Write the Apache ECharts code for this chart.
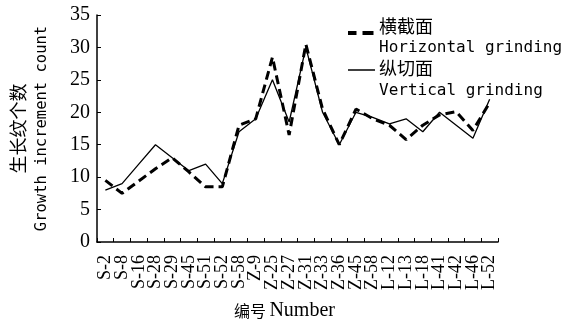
<!DOCTYPE html>
<html>
<head>
<meta charset="utf-8">
<script src="https://cdn.jsdelivr.net/npm/echarts@6/dist/echarts.min.js"></script>
<style>
  html, body { margin: 0; padding: 0; background: #fff; }
  #chart { width: 564px; height: 322px; }
</style>
</head>
<body>
<div id="chart"></div>
<script>
// Sample numbers along the x axis
const categories = ['S-2', 'S-8', 'S-16', 'S-28', 'S-29', 'S-45', 'S-51', 'S-52', 'S-58',
  'Z-9', 'Z-25', 'Z-27', 'Z-31', 'Z-33', 'Z-36', 'Z-45', 'Z-58',
  'L-12', 'L-13', 'L-18', 'L-41', 'L-42', 'L-46', 'L-52'];

// Growth increment counts, horizontal (cross) sections
const horizontalCounts = [9.5, 7.5, 9.4, 11.3, 13, 10.8, 8.5, 8.5, 18, 19, 28.5, 16.5,
  30.5, 20.5, 15, 20.5, 19, 18, 15.8, 18, 19.6, 20.1, 17.2, 21.5];

// Growth increment counts, vertical (longitudinal) sections
const verticalCounts = [8, 9, 12, 15, 13, 11, 12, 9, 17, 19, 25, 18.5,
  30, 20, 15, 20, 19.2, 18.2, 19, 17, 20, 18, 16, 22];

const yTicks = { min: 0, max: 35, interval: 5 };

const legendLabels = {
  horizontal: ['横截面', 'Horizontal grinding'],
  vertical: ['纵切面', 'Vertical grinding']
};

const CJK = '"Noto Sans CJK SC", "Noto Sans", sans-serif';
const MONO = '"DejaVu Sans Mono", "Liberation Mono", monospace';
const SERIF = '"Liberation Serif", "DejaVu Serif", serif';

const chart = echarts.init(document.getElementById('chart'), null, { renderer: 'canvas' });

// Key drawn as plain shapes and text so each two-line label sits beside its line sample
function keyText(text, x, y, family, size) {
  return {
    type: 'text', left: x, top: y - size * 0.6,
    style: { text: text, fontFamily: family, fontSize: size, fill: '#000' }
  };
}

const keyElements = [
  { type: 'rect', shape: { x: 348, y: 31, width: 8.5, height: 4 }, style: { fill: '#000' } },
  { type: 'rect', shape: { x: 362.5, y: 31, width: 11, height: 4 }, style: { fill: '#000' } },
  keyText(legendLabels.horizontal[0], 379, 28, CJK, 18),
  keyText(legendLabels.horizontal[1], 379, 49, MONO, 16),
  { type: 'line', shape: { x1: 348, y1: 70, x2: 375, y2: 70 }, style: { stroke: '#000', lineWidth: 1.5 } },
  keyText(legendLabels.vertical[0], 379, 70, CJK, 18),
  keyText(legendLabels.vertical[1], 379, 92, MONO, 16)
];

chart.setOption({
  animation: false,
  backgroundColor: '#fff',
  grid: { left: 97, right: 66, top: 15, bottom: 80, containLabel: false, outerBoundsMode: 'none' },
  graphic: keyElements,
  xAxis: {
    type: 'category',
    data: categories,
    boundaryGap: true,
    name: '{cn|编号} {en|Number}',
    nameLocation: 'middle',
    nameGap: 59,
    nameTextStyle: {
      padding: [0, 26, 0, 0],
      rich: {
        cn: { fontFamily: CJK, fontSize: 16, color: '#000' },
        en: { fontFamily: SERIF, fontSize: 20, color: '#000' }
      }
    },
    axisLine: { lineStyle: { color: '#000', width: 1.5 } },
    axisTick: { show: true, inside: true, length: 4, alignWithLabel: false, lineStyle: { color: '#000', width: 1 } },
    axisLabel: {
      interval: 0,
      rotate: 90,
      margin: 13,
      fontFamily: SERIF,
      fontSize: 18,
      color: '#000'
    },
    splitLine: { show: false }
  },
  yAxis: {
    type: 'value',
    min: yTicks.min,
    max: yTicks.max,
    interval: yTicks.interval,
    name: '{cn|生长纹个数}\n{en|Growth increment count}',
    nameLocation: 'middle',
    nameRotate: 90,
    nameGap: 44,
    nameTextStyle: {
      rich: {
        cn: { fontFamily: CJK, fontSize: 18, lineHeight: 23, color: '#000' },
        en: { fontFamily: MONO, fontSize: 15.5, lineHeight: 23, color: '#000' }
      }
    },
    axisLine: { show: true, lineStyle: { color: '#000', width: 1.5 } },
    axisTick: { show: true, inside: true, length: 4, lineStyle: { color: '#000', width: 1 } },
    axisLabel: { margin: 7, fontFamily: SERIF, fontSize: 20, color: '#000' },
    splitLine: { show: false }
  },
  series: [
    {
      name: legendLabels.horizontal.join(' '),
      type: 'line',
      data: horizontalCounts,
      symbol: 'none',
      color: '#000',
      lineStyle: { color: '#000', width: 3, type: [9, 5] },
      z: 3
    },
    {
      name: legendLabels.vertical.join(' '),
      type: 'line',
      data: verticalCounts,
      symbol: 'none',
      color: '#000',
      lineStyle: { color: '#000', width: 1.3, type: 'solid' },
      z: 2
    }
  ]
});
</script>
</body>
</html>
